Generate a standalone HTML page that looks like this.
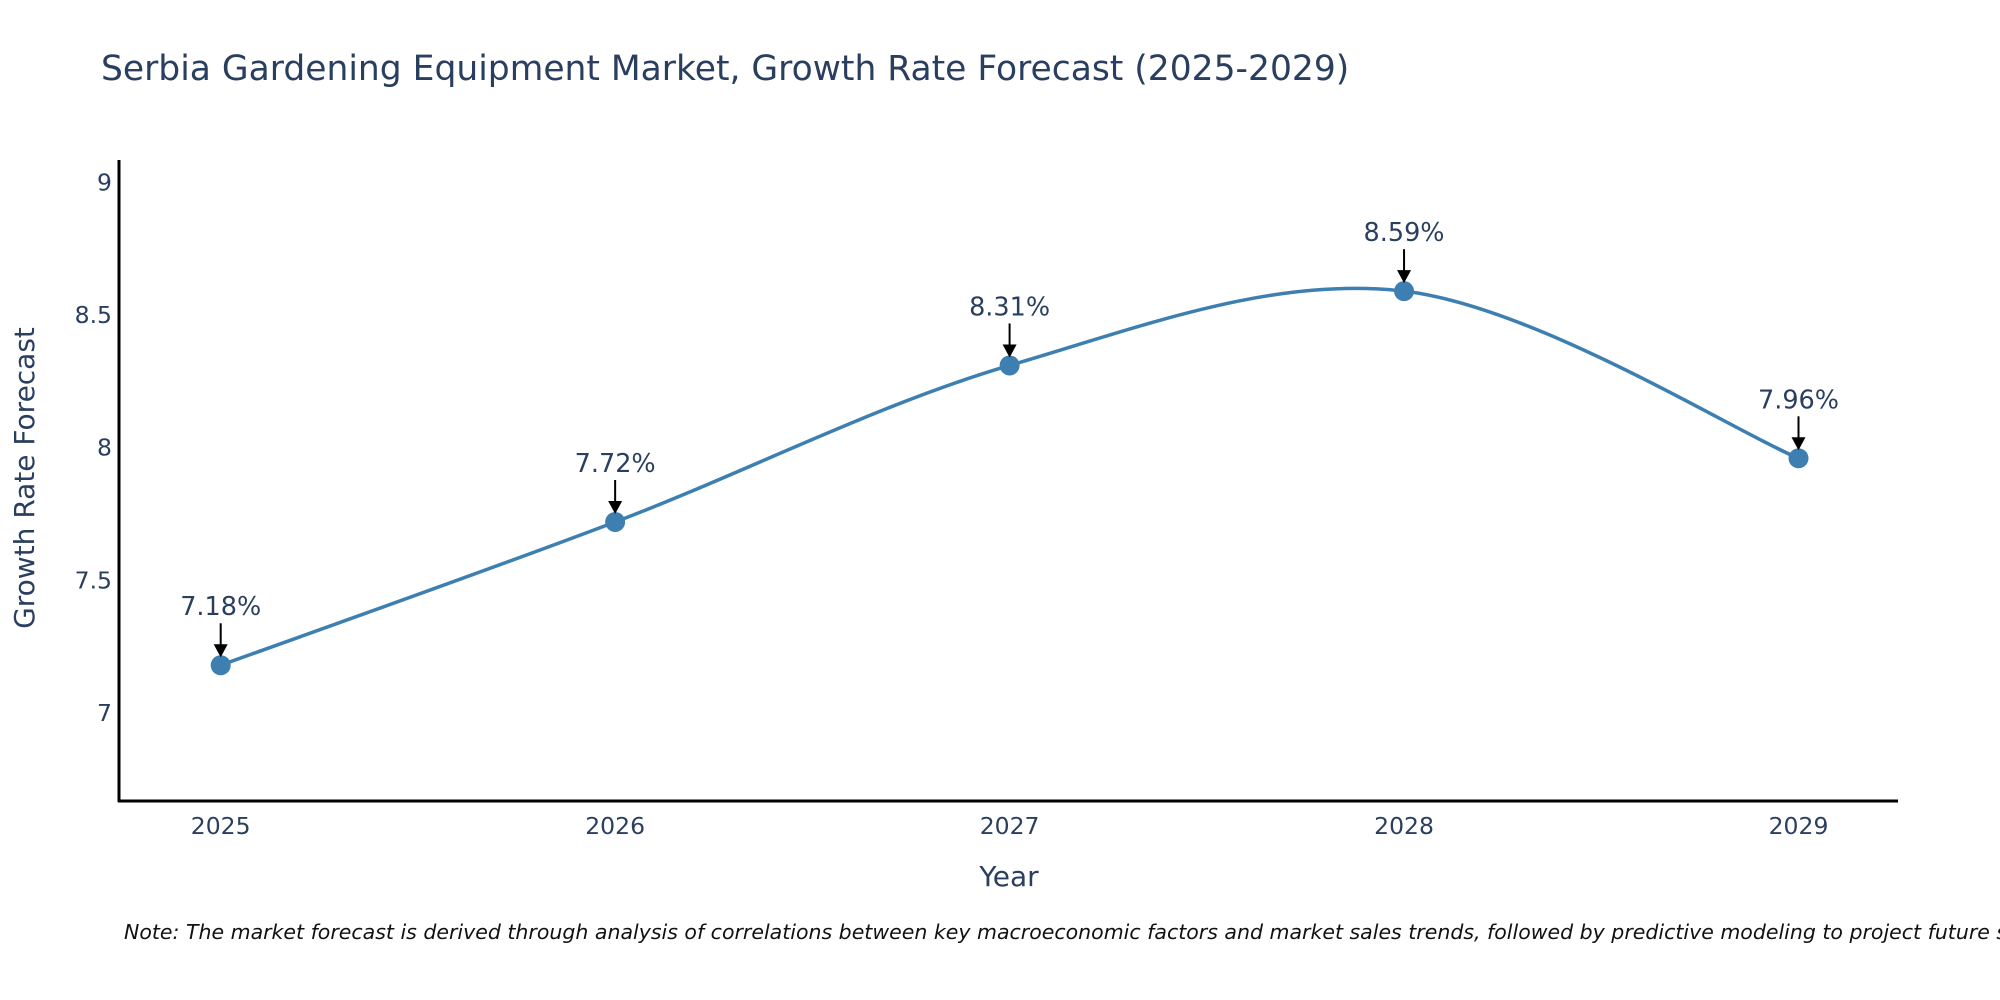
<!DOCTYPE html>
<html><head><meta charset="utf-8"><style>
body{margin:0;background:#fff}
svg{display:block;font-family:"DejaVu Sans","Liberation Sans",sans-serif}
</style></head><body>
<svg id="chart" width="2000" height="1000" viewBox="0 0 2000 1000">
<text x="101" y="80" font-size="34.5" fill="#2a3f5f">Serbia Gardening Equipment Market, Growth Rate Forecast (2025-2029)</text>
<g id="yticks"></g>
<g id="xticks"></g>
<line x1="119" y1="160" x2="119" y2="802" stroke="#000" stroke-width="3"/>
<line x1="118" y1="801" x2="1898" y2="801" stroke="#000" stroke-width="3"/>
<text transform="translate(34,478) rotate(-90)" text-anchor="middle" font-size="28" fill="#2a3f5f">Growth Rate Forecast</text>
<text x="1009" y="886" text-anchor="middle" font-size="28" fill="#2a3f5f">Year</text>
<g id="series"></g>
<text x="124" y="939" font-size="20.5" font-style="italic" fill="#111">Note: The market forecast is derived through analysis of correlations between key macroeconomic factors and market sales trends, followed by predictive modeling to project future sales.</text>
</svg>
<script>
const years = [2025, 2026, 2027, 2028, 2029];
const growth = [7.18, 7.72, 8.31, 8.59, 7.96];
const yTicks = [7, 7.5, 8, 8.5, 9];
const yTickLabels = ["7", "7.5", "8", "8.5", "9"];

const NS = "http://www.w3.org/2000/svg";
const xScale = v => 220.7 + (v - 2025) * (1798.5 - 220.7) / 4;
const yScale = v => 713 - (v - 7) * (713 - 182.4) / 2;
function mk(tag, attrs, parent) {
  const e = document.createElementNS(NS, tag);
  for (const k in attrs) e.setAttribute(k, attrs[k]);
  parent.appendChild(e);
  return e;
}
const yt = document.getElementById('yticks');
yTicks.forEach((v, i) => {
  const t = mk('text', {x: 112, y: yScale(v) + 8, 'text-anchor': 'end', 'font-size': 23.5, fill: '#2a3f5f'}, yt);
  
  
  t.textContent = yTickLabels[i];
});
const xt = document.getElementById('xticks');
years.forEach(v => {
  const t = mk('text', {x: xScale(v), y: 834, 'text-anchor': 'middle', 'font-size': 23.5, fill: '#2a3f5f'}, xt);
  
  
  t.textContent = String(v);
});
const s = document.getElementById('series');
const P = years.map((y, i) => [xScale(y), yScale(growth[i])]);
let d = `M${P[0][0]},${P[0][1]}`;
for (let i = 0; i < P.length - 1; i++) {
  const p0 = P[Math.max(0, i - 1)], p1 = P[i], p2 = P[i + 1], p3 = P[Math.min(P.length - 1, i + 2)];
  const c1 = [p1[0] + (p2[0] - p0[0]) / 6, p1[1] + (p2[1] - p0[1]) / 6];
  const c2 = [p2[0] - (p3[0] - p1[0]) / 6, p2[1] - (p3[1] - p1[1]) / 6];
  d += ` C${c1[0]},${c1[1]} ${c2[0]},${c2[1]} ${p2[0]},${p2[1]}`;
}
const line = mk('path', {d: d, fill: 'none', stroke: '#3d7fb0', 'stroke-width': 3.5}, s);


P.forEach((p, i) => {
  const c = mk('circle', {cx: p[0], cy: p[1], r: 10, fill: '#3d7fb0'}, s);
  
  
  const a = mk('line', {x1: p[0], y1: p[1] - 42, x2: p[0], y2: p[1] - 20, stroke: '#000', 'stroke-width': 2}, s);
  
  
  const h = mk('polygon', {points: `${p[0]-7},${p[1]-21} ${p[0]+7},${p[1]-21} ${p[0]},${p[1]-8}`, fill: '#000'}, s);
  
  
  const t = mk('text', {x: p[0], y: p[1] - 50, 'text-anchor': 'middle', 'font-size': 25.5, fill: '#2a3f5f'}, s);
  
  
  t.textContent = growth[i].toFixed(2) + '%';
});
</script>
</body></html>
